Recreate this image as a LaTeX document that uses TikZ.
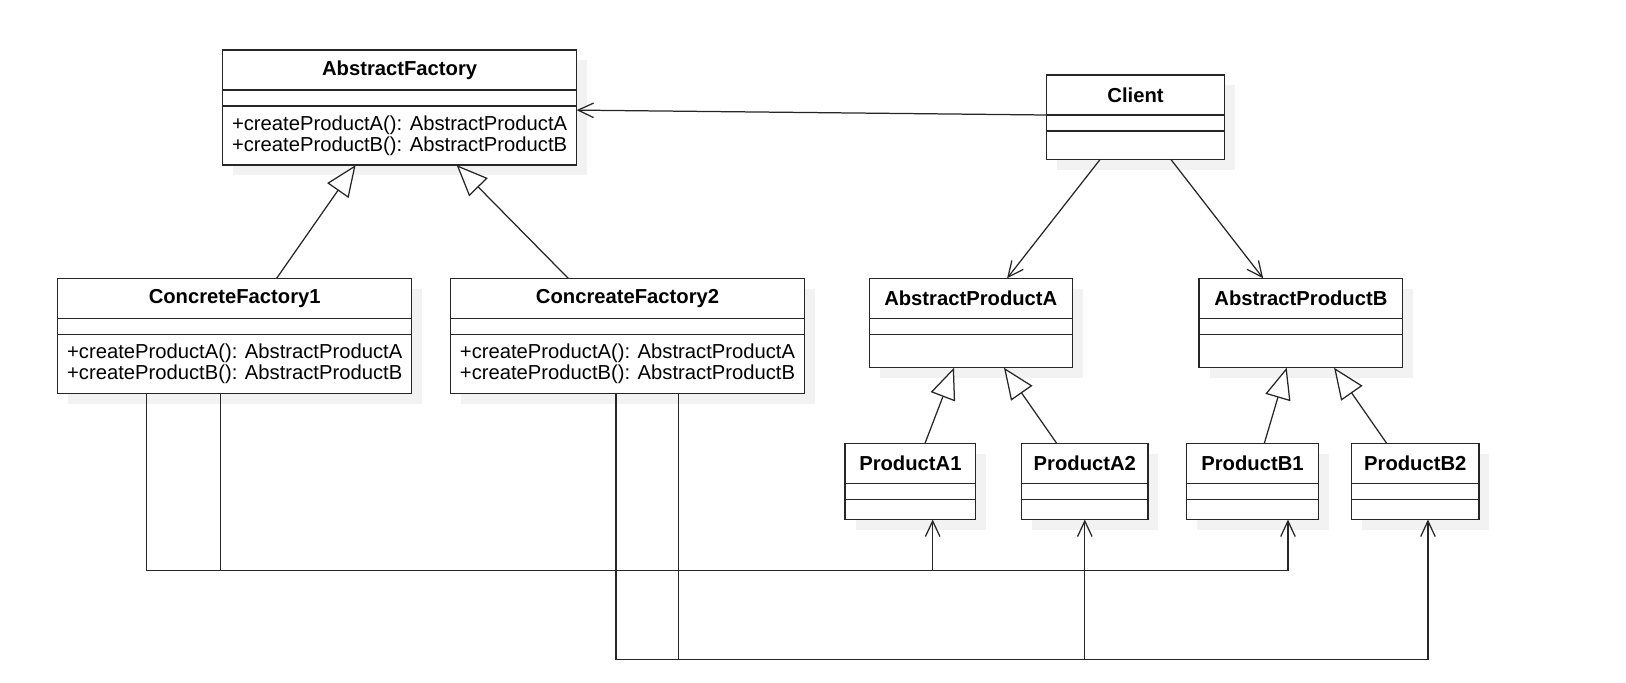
\documentclass[tikz,border=0pt]{standalone}
\usepackage{fontspec}
\setmainfont{Liberation Sans}
\usetikzlibrary{positioning, calc, arrows.meta, shadows}
\newcommand{\umlfont}{\fontsize{19.5}{20.5}\selectfont}

\begin{document}
\begin{tikzpicture}[x=1pt, y=-1pt,
% Define custom styles for the class boxes
    classbox/.style={
        draw=black!85,
        line width=1.4pt,
        fill=white,
        rectangle,
        inner sep=0pt,
        outer sep=0pt,
        minimum width=#1,
        drop shadow={shadow xshift=10pt, shadow yshift=-10pt, fill=black!5, opacity=1}
        },
    titlebox/.style={classbox=#1, minimum height=38.6pt, font=\umlfont\bfseries},
    attrbox/.style={classbox=#1, minimum height=15.4pt},
    opsbox/.style={classbox=#1, font=\umlfont, align=left},
    inherit/.style={line width=1.2pt, draw=black!85, -{Triangle[length=30pt, width=25pt, fill=white]}},
    assoc/.style={line width=1.2pt, draw=black!85, -{Straight Barb[length=15pt, width=14pt]}}
]
\useasboundingbox (0,0) rectangle (1568,657.7);

\node[titlebox=341.3pt, anchor=north west] (AF) at (214.7,48.2) {AbstractFactory};
\node[attrbox=341.3pt, below=0pt of AF] (AFat) {};
\node[opsbox=341.3pt, minimum height=57pt, below=0pt of AFat] (AFop) {+createProductA(): AbstractProductA\\+createProductB(): AbstractProductB};

\node[titlebox=172pt, anchor=north west] (CL) at (1009,72.3) {Client};
\node[attrbox=172pt, below=0pt of CL] (CLat) {};
\node[opsbox=172pt, minimum height=27.3pt, below=0pt of CLat] (CLop) {};

\node[titlebox=341.3pt, anchor=north west] (CF1) at (55.7,268.4) {ConcreteFactory1};
\node[attrbox=341.3pt, below=0pt of CF1] (CF1at) {};
\node[opsbox=341.3pt, minimum height=57pt, below=0pt of CF1at] (CF1op) {+createProductA(): AbstractProductA\\+createProductB(): AbstractProductB};

\node[titlebox=341.3pt, anchor=north west] (CF2) at (434.5,268.4) {ConcreateFactory2};
\node[attrbox=341.3pt, below=0pt of CF2] (CF2at) {};
\node[opsbox=341.3pt, minimum height=57pt, below=0pt of CF2at] (CF2op) {+createProductA(): AbstractProductA\\+createProductB(): AbstractProductB};

\node[titlebox=195.7pt, anchor=north west] (PA) at (838.3,268.4) {AbstractProductA};
\node[attrbox=195.7pt, below=0pt of PA] (PAat) {};
\node[opsbox=195.7pt, minimum height=32.2pt, below=0pt of PAat] (PAop) {};

\node[titlebox=196.2pt, anchor=north west] (PB) at (1156.4,268.4) {AbstractProductB};
\node[attrbox=196.2pt, below=0pt of PB] (PBat) {};
\node[opsbox=196.2pt, minimum height=32.2pt, below=0pt of PBat] (PBop) {};

\node[titlebox=125.8pt, anchor=north west] (A1) at (815,427.5) {ProductA1};
\node[attrbox=125.8pt, below=0pt of A1] (A1at) {};
\node[opsbox=125.8pt, minimum height=19.5pt, below=0pt of A1at] (A1op) {};

\node[titlebox=121.8pt, anchor=north west] (A2) at (985.2,427.5) {ProductA2};
\node[attrbox=121.8pt, below=0pt of A2] (A2at) {};
\node[opsbox=121.8pt, minimum height=19.5pt, below=0pt of A2at] (A2op) {};

\node[titlebox=127pt, anchor=north west] (B1) at (1144.3,427.5) {ProductB1};
\node[attrbox=127pt, below=0pt of B1] (B1at) {};
\node[opsbox=127pt, minimum height=19.5pt, below=0pt of B1at] (B1op) {};

\node[titlebox=122.8pt, anchor=north west] (B2) at (1303.4,427.5) {ProductB2};
\node[attrbox=122.8pt, below=0pt of B2] (B2at) {};
\node[opsbox=122.8pt, minimum height=19.5pt, below=0pt of B2at] (B2op) {};

\draw[assoc] (CLat.north west) -- ($(AFop.north east)+(0,4)$);
\draw[assoc] ($(CLop.south)+(-34,0)$) -- ($(PA.north)+(35,0)$);
\draw[assoc] ($(CLop.south)+(34,0)$) -- ($(PB.north)+(-36.4,0)$);

\draw[inherit] ($(CF1.north)+(40.4,0)$) -- ($(AFop.south)+(-42.4,0)$);
\draw[inherit] ($(CF2.north)+(-57.2,0)$) -- ($(AFop.south)+(55,0)$);
\draw[inherit] ($(A1.north)+(14.1,0)$) -- ($(PAop.south)+(-16.2,0)$);
\draw[inherit] ($(A2.north)+(-27.1,0)$) -- ($(PAop.south)+(32,0)$);
\draw[inherit] ($(B1.north)+(11.4,0)$) -- ($(PBop.south)+(-13.7,0)$);
\draw[inherit] ($(B2.north)+(-27.6,0)$) -- ($(PBop.south)+(32,0)$);

\draw[assoc] ($(CF1op.south)+(-13.4,0)$) |- ($(A1op.south)+(21.5,49)$) -- ($(A1op.south)+(21.5,0)$);
\draw[assoc] ($(CF1op.south)+(-85.4,0)$) |- ($(B1op.south)+(34.2,49)$) -- ($(B1op.south)+(34.2,0)$);
\draw[assoc] ($(CF2op.south)+(48.8,0)$) |- ($(A2op.south)+(0,135)$) -- (A2op.south);
\draw[assoc] ($(CF2op.south)+(-11.2,0)$) |- ($(B2op.south)+(12.2,135)$) -- ($(B2op.south)+(12.2,0)$);

\end{tikzpicture}
\end{document}
